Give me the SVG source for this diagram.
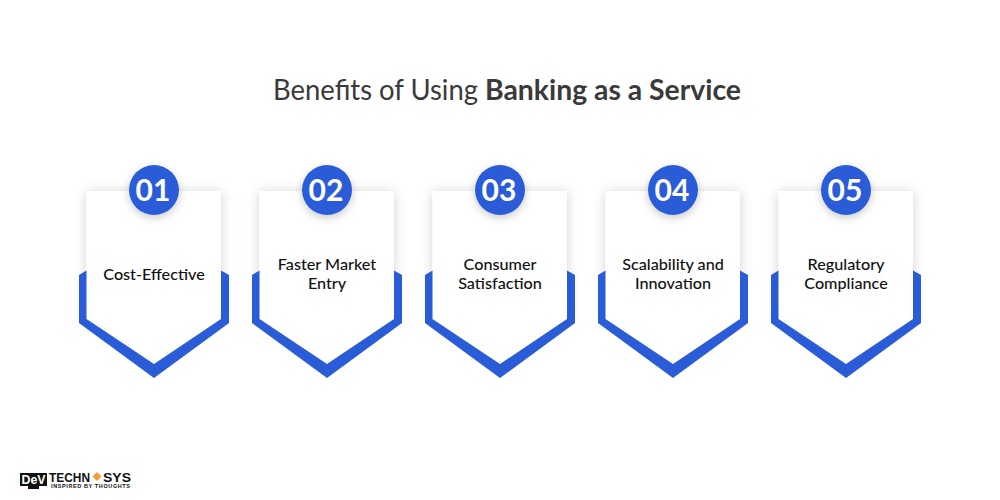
<svg xmlns="http://www.w3.org/2000/svg" width="1000" height="500" viewBox="0 0 1000 500">
<style>
.t{font-family:"Lato","Liberation Sans",sans-serif;font-size:16.200px;font-weight:500;fill:#111;text-anchor:middle}
.n{font-family:"Lato","Liberation Sans",sans-serif;font-size:30px;font-weight:700;fill:#fff;text-anchor:middle}
.b{fill:#2b5cd8}.w{fill:#fff}
.h{font-family:"Lato","Liberation Sans",sans-serif;font-size:28px;fill:#3a3a3a}
.l{font-family:"Liberation Sans",sans-serif;font-weight:700;fill:#111}
</style>
<defs>
<filter id="s" x="-30%" y="-30%" width="160%" height="160%"><feDropShadow dx="0" dy="1" stdDeviation="6" flood-color="#000" flood-opacity="0.18"/></filter>
<filter id="c" x="-50%" y="-50%" width="200%" height="200%"><feDropShadow dx="0" dy="3" stdDeviation="4" flood-color="#000" flood-opacity="0.2"/></filter>
<g id="card">
<path class="w" filter="url(#s)" d="M-67.500 1H67V129L0 174L-67.500 129Z"/>
<path class="b" d="M-75 85L-67.500 80.500V129L0 174L67 129V80.500L75 85V133L0 188L-75 133Z"/>
<circle class="b" cx="0" cy="0" r="25" filter="url(#c)"/>
</g>
</defs>
<rect width="1000" height="500" fill="#fff"/>
<g id="title">
<text class="h" x="273" y="100" textLength="205" lengthAdjust="spacingAndGlyphs">Benefits of Using</text>
<text class="h" x="485" y="100" font-weight="700" textLength="256" lengthAdjust="spacingAndGlyphs">Banking as a Service</text>
</g>
<g id="connectors"/>
<g id="node1" transform="translate(154 190)"><use href="#card"/><text class="n" x="-1" y="10.500">01</text><text class="t" y="90">Cost-Effective</text></g>
<g id="node2" transform="translate(327 190)"><use href="#card"/><text class="n" x="-1" y="10.500">02</text><text class="t" y="80">Faster Market</text><text class="t" y="99">Entry</text></g>
<g id="node3" transform="translate(500 190)"><use href="#card"/><text class="n" x="-1" y="10.500">03</text><text class="t" y="80">Consumer</text><text class="t" y="99">Satisfaction</text></g>
<g id="node4" transform="translate(673 190)"><use href="#card"/><text class="n" x="-1" y="10.500">04</text><text class="t" y="80">Scalability and</text><text class="t" y="99">Innovation</text></g>
<g id="node5" transform="translate(846 190)"><use href="#card"/><text class="n" x="-1" y="10.500">05</text><text class="t" y="80">Regulatory</text><text class="t" y="99">Compliance</text></g>
<g id="logo">
<rect x="20" y="473" width="27" height="13" fill="#111"/>
<path d="M28 486h11v3H28Z" fill="#111"/>
<text x="33.500" y="484" text-anchor="middle" font-family="Liberation Sans,sans-serif" font-size="12" font-weight="700" fill="#fff" textLength="24" lengthAdjust="spacingAndGlyphs">DeV</text>
<text class="l" x="49" y="481.500" font-size="12" textLength="41" lengthAdjust="spacingAndGlyphs">TECHN</text>
<path d="M97 472l4.500 4.500L97 481l-4.500-4.500Z" fill="#f0a030"/>
<text class="l" x="103" y="481.500" font-size="12" textLength="28" lengthAdjust="spacingAndGlyphs">SYS</text>
<text class="l" x="51" y="487.500" font-size="5.500" textLength="79" lengthAdjust="spacing">INSPIRED BY THOUGHTS</text>
</g>
</svg>
